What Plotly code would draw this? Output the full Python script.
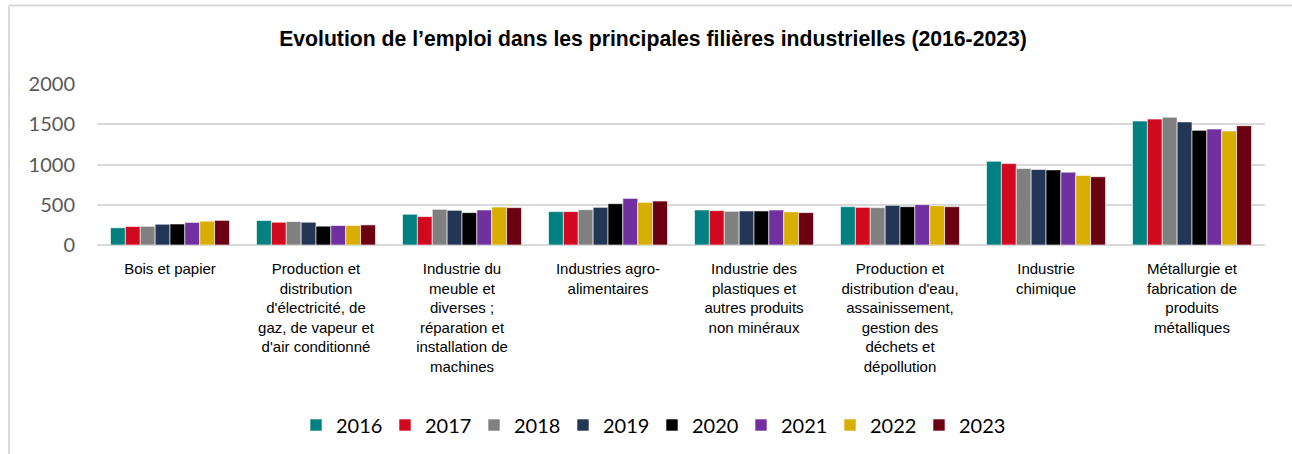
import plotly.graph_objects as go

# filières (libellés coupés comme sur le graphique d'origine)
filieres = [
    "Bois et papier",
    "Production et<br>distribution<br>d'électricité, de<br>gaz, de vapeur et<br>d'air conditionné",
    "Industrie du<br>meuble et<br>diverses ;<br>réparation et<br>installation de<br>machines",
    "Industries agro-<br>alimentaires",
    "Industrie des<br>plastiques et<br>autres produits<br>non minéraux",
    "Production et<br>distribution d'eau,<br>assainissement,<br>gestion des<br>déchets et<br>dépollution",
    "Industrie<br>chimique",
    "Métallurgie et<br>fabrication de<br>produits<br>métalliques",
]

annees = ["2016", "2017", "2018", "2019", "2020", "2021", "2022", "2023"]

# emplois par filière, une liste par année
emploi_2016 = [214, 304, 382, 415, 435, 476, 1040, 1540]
emploi_2017 = [230, 283, 353, 415, 427, 468, 1011, 1564]
emploi_2018 = [232, 291, 443, 439, 419, 464, 950, 1587]
emploi_2019 = [258, 283, 431, 468, 423, 493, 938, 1529]
emploi_2020 = [261, 234, 402, 513, 423, 476, 933, 1424]
emploi_2021 = [280, 242, 435, 579, 435, 501, 905, 1441]
emploi_2022 = [296, 242, 472, 530, 411, 488, 864, 1416]
emploi_2023 = [306, 250, 464, 546, 402, 476, 848, 1482]

series = [emploi_2016, emploi_2017, emploi_2018, emploi_2019,
          emploi_2020, emploi_2021, emploi_2022, emploi_2023]

couleurs = ["#008080", "#D0091F", "#808080", "#233656",
            "#000000", "#7030A0", "#D8AE00", "#6B0012"]

fig = go.Figure()
for annee, valeurs, couleur in zip(annees, series, couleurs):
    fig.add_trace(go.Bar(
        x=filieres, y=valeurs, name=annee,
        marker=dict(color=couleur, line=dict(color="white", width=0.6)),
    ))

# cadre gris clair autour du graphique
W, H = 1292, 454
L, R, T, B = 97, 27, 84, 208
pw, ph = W - L - R, H - T - B


def px_x(p):
    return (p - L) / pw


def px_y(p):
    return (H - B - p) / ph


cadre = dict(color="#d9d9d9", width=2)
shapes = [
    dict(type="line", xref="paper", yref="paper",
         x0=px_x(9), x1=px_x(W + 5), y0=px_y(5), y1=px_y(5), line=cadre),
    dict(type="line", xref="paper", yref="paper",
         x0=px_x(9), x1=px_x(9), y0=px_y(5), y1=px_y(H + 5), line=cadre),
]

fig.update_layout(
    width=W, height=H,
    margin=dict(l=L, r=R, t=T, b=B),
    paper_bgcolor="white", plot_bgcolor="white",
    barmode="group", bargap=0.185, bargroupgap=0.0,
    title=dict(
        text="<b>Evolution de l’emploi dans les principales filières industrielles (2016-2023)</b>",
        x=(276 + 1030) / 2 / W, xref="container", xanchor="center",
        y=1 - 39 / H, yref="container", yanchor="middle",
        font=dict(family="Liberation Sans, Arial", size=21.2, color="#000000"),
    ),
    xaxis=dict(
        showgrid=False, showline=False, ticks="",
        tickfont=dict(family="Liberation Sans, Arial", size=15, color="#000000"),
        tickangle=0, ticklabelstandoff=13,
    ),
    yaxis=dict(
        range=[0, 2000], tickvals=[0, 500, 1000, 1500, 2000],
        showgrid=True, gridcolor="#d9d9d9", gridwidth=1.8,
        zeroline=True, zerolinecolor="#d9d9d9", zerolinewidth=1.8,
        showline=False, ticks="", ticklabelstandoff=21,
        tickfont=dict(family="Lato, Roboto, sans-serif", size=20, color="#595959"),
    ),
    legend=dict(
        orientation="h", x=px_x(652), xanchor="center",
        y=px_y(425), yanchor="middle",
        font=dict(family="Lato, Roboto, sans-serif", size=20, color="#000000"),
        entrywidth=44, itemwidth=30, traceorder="normal",
    ),
    shapes=shapes,
    showlegend=True,
)

# pas de marge autour du graphique dans la page
fig.write_html("out.html", config={"displayModeBar": False},
               post_script="document.body.style.margin='0';")
